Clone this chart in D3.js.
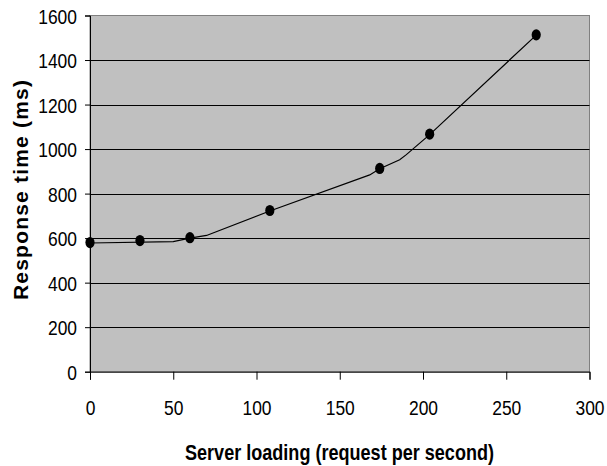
<!DOCTYPE html>
<html>
<head>
<meta charset="utf-8">
<script src="https://cdn.jsdelivr.net/npm/d3@7"></script>
<style>
  html, body { margin: 0; padding: 0; background: #fff; }
  svg { display: block; }
</style>
</head>
<body>
<div id="chart"></div>
<script>
// Measured response times at each server load
const loadRps = [0, 30, 60, 108, 174, 204, 268];
const responseMs = [580, 589, 602, 724, 913, 1067, 1513];

// Fitted response curve drawn through the measurements
const curveLoad = [0, 50, 60, 70, 108, 168, 174, 186, 190, 204, 268];
const curveMs = [578, 584, 600, 612, 722, 884, 912, 952, 975, 1065, 1512];

const xTicks = [0, 50, 100, 150, 200, 250, 300];
const yTicks = [0, 200, 400, 600, 800, 1000, 1200, 1400, 1600];

const xTitle = "Server loading (request per second)";
const yTitle = "Response time (ms)";

const W = 607, H = 466;
const m = { left: 90, right: 17.5, top: 15.5, bottom: 94.3 };

const svg = d3.select("#chart").append("svg")
  .attr("width", W).attr("height", H);

const x = d3.scaleLinear().domain([0, 300]).range([m.left, W - m.right]);
const y = d3.scaleLinear().domain([0, 1600]).range([H - m.bottom, m.top]);

const sans = "'Liberation Sans', Arial, sans-serif";
const squeeze = 0.83; // condensed look for the numeric labels

// plot area
svg.append("rect")
  .attr("x", x(0)).attr("y", y(1600))
  .attr("width", x(300) - x(0)).attr("height", y(0) - y(1600))
  .attr("fill", "#c0c0c0")
  .attr("stroke", "#808080").attr("stroke-width", 1);

// horizontal gridlines
svg.append("g")
  .selectAll("line")
  .data(yTicks.filter(d => d > 0 && d < 1600))
  .join("line")
  .attr("x1", x(0)).attr("x2", x(300))
  .attr("y1", d => Math.round(y(d)) + 0.5).attr("y2", d => Math.round(y(d)) + 0.5)
  .attr("stroke", "#000").attr("stroke-width", 1);

// y axis
const yAxis = svg.append("g")
  .attr("transform", `translate(${x(0)},0)`)
  .call(d3.axisLeft(y).tickValues(yTicks).tickSize(5).tickPadding(0).tickFormat(d3.format("d")));
yAxis.select(".domain").attr("stroke", "#000");
yAxis.selectAll(".tick line").attr("stroke", "#000");
yAxis.selectAll("text")
  .attr("font-family", sans).attr("font-size", 21).attr("fill", "#000")
  .attr("x", -13 / squeeze)
  .attr("dy", "0.36em")
  .attr("transform", `scale(${squeeze},1)`);

// x axis
const xAxis = svg.append("g")
  .attr("transform", `translate(0,${y(0)})`)
  .call(d3.axisBottom(x).tickValues(xTicks).tickSize(8).tickPadding(20).tickFormat(d3.format("d")));
xAxis.select(".domain").attr("stroke", "#000");
xAxis.selectAll(".tick line").attr("stroke", "#000");
xAxis.selectAll("text")
  .attr("font-family", sans).attr("font-size", 21).attr("fill", "#000")
  .attr("transform", `scale(${squeeze},1)`);

// fitted curve
const curve = curveLoad.map((d, i) => [d, curveMs[i]]);
svg.append("path")
  .datum(curve)
  .attr("fill", "none")
  .attr("stroke", "#000").attr("stroke-width", 1.2)
  .attr("d", d3.line().x(d => x(d[0])).y(d => y(d[1])));

// measured points
svg.append("g")
  .selectAll("ellipse")
  .data(loadRps.map((d, i) => [d, responseMs[i]]))
  .join("ellipse")
  .attr("cx", d => x(d[0])).attr("cy", d => y(d[1]))
  .attr("rx", 4.6).attr("ry", 5.6)
  .attr("fill", "#000");

// axis titles
svg.append("text")
  .attr("x", 185).attr("y", 460)
  .attr("font-family", sans).attr("font-weight", "bold").attr("font-size", 22)
  .attr("textLength", 309).attr("lengthAdjust", "spacingAndGlyphs")
  .attr("fill", "#000")
  .text(xTitle);

svg.append("text")
  .attr("transform", "translate(28,300) rotate(-90)")
  .attr("font-family", sans)
  .attr("font-weight", "bold").attr("font-size", 21)
  .attr("textLength", 220).attr("lengthAdjust", "spacing")
  .attr("fill", "#000")
  .text(yTitle);
</script>
</body>
</html>
